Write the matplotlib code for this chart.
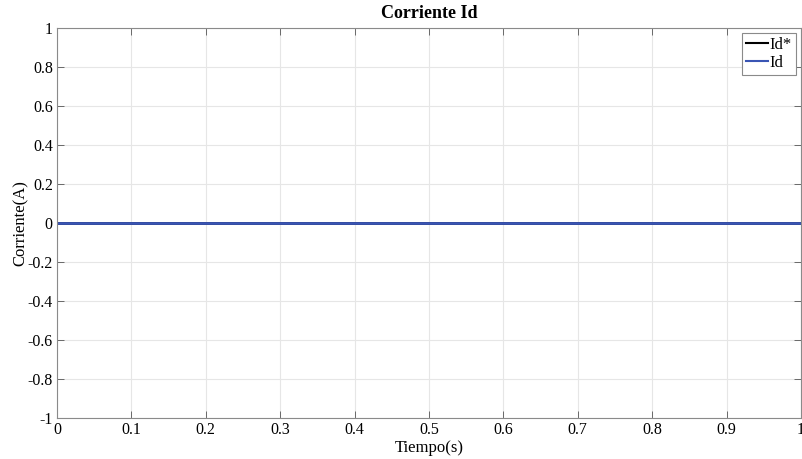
import numpy as np
import matplotlib.pyplot as plt

plt.rcParams['font.family'] = ['Liberation Serif', 'DejaVu Serif']

# señales de corriente en el eje d
t = [0.0, 0.25, 0.5, 0.75, 1.0]
id_ref = [0.0, 0.0, 0.0, 0.0, 0.0]
id_med = [0.0, 0.0, 0.0, 0.0, 0.0]

xticks = [0, 0.1, 0.2, 0.3, 0.4, 0.5, 0.6, 0.7, 0.8, 0.9, 1]
yticks = [-1, -0.8, -0.6, -0.4, -0.2, 0, 0.2, 0.4, 0.6, 0.8, 1]

fig = plt.figure(figsize=(8.03, 4.59), dpi=100)
ax = fig.add_axes([0.071, 0.0893, 0.9265, 0.8497])

ax.plot(t, id_ref, color='black', lw=2, label='Id*')
ax.plot(t, id_med, color='#3a55b4', lw=2, label='Id')

ax.set_xlim(0, 1)
ax.set_ylim(-1, 1)
ax.set_xticks(xticks)
ax.set_xticklabels([('%g' % v) for v in xticks])
ax.set_yticks(yticks)
ax.set_yticklabels([('%g' % v) for v in yticks])
ax.grid(True, color='#e6e6e6', lw=0.8)
ax.set_axisbelow(True)
ax.tick_params(direction='in', top=True, right=True, labelsize=11.5, length=5,
               color='#555555', width=0.6, pad=3)
for s in ax.spines.values():
    s.set_color('#8a8a8a')
    s.set_linewidth(0.8)

ax.set_title('Corriente Id', fontsize=13, fontweight='bold', pad=7)
ax.set_xlabel('Tiempo(s)', fontsize=12, labelpad=1)
ax.set_ylabel('Corriente(A)', fontsize=12, labelpad=-1)

leg = ax.legend(loc='upper right', fontsize=12, fancybox=False, handlelength=1.3,
                handletextpad=0.1, borderpad=0.25, labelspacing=0.1,
                borderaxespad=0.3, framealpha=1)
leg.get_frame().set_edgecolor('#8a8a8a')
leg.get_frame().set_linewidth(0.8)
for h in leg.get_lines():
    h.set_linewidth(1.5)

fig.savefig('out.png', dpi=100)
